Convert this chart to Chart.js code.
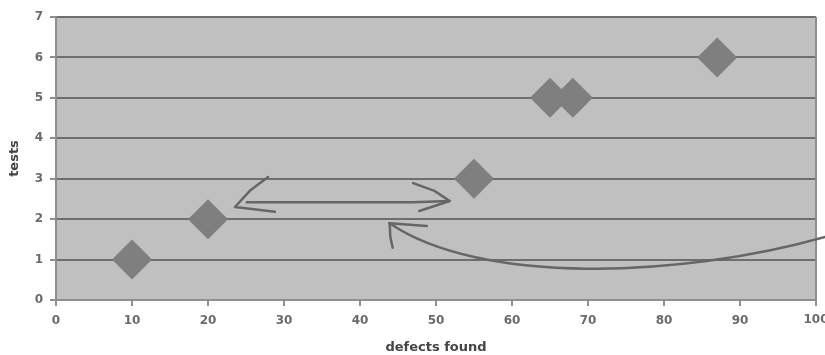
<!DOCTYPE html>
<html>
<head>
<meta charset="utf-8">
<script src="https://cdn.jsdelivr.net/npm/chart.js@4/dist/chart.umd.min.js"></script>
<style>
  html, body { margin: 0; padding: 0; background: #ffffff; }
  #wrap { width: 825px; height: 355px; position: relative; }
</style>
</head>
<body>
<div id="wrap"><canvas id="c" width="825" height="355"></canvas></div>
<script>
// ---- data ----
const defectsFound = [10, 20, 55, 65, 68, 87];
const tests = [1, 2, 3, 5, 5, 6];
const xTickLabels = [0, 10, 20, 30, 40, 50, 60, 70, 80, 90, 100];
const yTickLabels = [0, 1, 2, 3, 4, 5, 6, 7];
const xTitle = 'defects found';
const yTitle = 'tests';

// hand-drawn annotation strokes, in data units (x = defects, y = tests)
const doubleArrowShaft = [[25.1, 2.42], [47.0, 2.42], [51.8, 2.45]];
const doubleArrowLeftHead = [[27.9, 3.04], [25.5, 2.7], [23.55, 2.30], [28.8, 2.18]];
const doubleArrowRightHead = [[47.0, 2.89], [49.8, 2.7], [51.8, 2.45], [47.8, 2.20]];
const curveArrow = [[101.2, 1.56], [82.1, 0.544], [55.8, 0.371], [43.9, 1.90]]; // cubic bezier
const curveArrowHeadA = [[43.9, 1.90], [48.8, 1.83]];
const curveArrowHeadB = [[43.9, 1.90], [44.0, 1.55], [44.3, 1.29]];

const points = defectsFound.map((x, i) => ({ x: x, y: tests[i] }));
const lastX = xTickLabels[xTickLabels.length - 1];
const tickFont = { family: 'DejaVu Sans', size: 12, weight: 'bold' };
const titleFont = { family: 'DejaVu Sans', size: 13, weight: 'bold' };
const tickColor = '#6a6a6a';
const xTickPad = 8;

const plotBg = {
  id: 'plotBg',
  beforeDraw(chart) {
    const { ctx, chartArea: a } = chart;
    ctx.save();
    ctx.fillStyle = '#c0c0c0';
    ctx.fillRect(a.left, a.top, a.right - a.left, a.bottom - a.top);
    ctx.restore();
  },
  afterDatasetsDraw(chart) {
    const { ctx, chartArea: a } = chart;
    ctx.save();
    ctx.strokeStyle = '#8e8e8e';
    ctx.lineWidth = 2;
    ctx.beginPath();
    ctx.moveTo(a.right, a.top);
    ctx.lineTo(a.right, a.bottom);
    ctx.stroke();
    ctx.restore();
  }
};

// the last x tick label runs past the canvas edge (as in the original); drawn here so it does not shrink the plot
const lastLabel = {
  id: 'lastLabel',
  afterDraw(chart) {
    const ctx = chart.ctx, xs = chart.scales.x;
    ctx.save();
    ctx.fillStyle = tickColor;
    ctx.font = 'bold 12px "DejaVu Sans"';
    ctx.textAlign = 'center';
    ctx.textBaseline = 'top';
    const tickLabelTop = xs.top + 6 + xTickPad;
    ctx.fillText(String(lastX), xs.getPixelForValue(lastX), tickLabelTop);
    ctx.restore();
  }
};

const annotations = {
  id: 'annotations',
  afterDraw(chart) {
    const ctx = chart.ctx;
    const xs = chart.scales.x, ys = chart.scales.y;
    const P = (p) => [xs.getPixelForValue(p[0]), ys.getPixelForValue(p[1])];
    ctx.save();
    ctx.strokeStyle = '#666666';
    ctx.lineWidth = 2.5;
    ctx.lineCap = 'round';
    ctx.lineJoin = 'round';
    const poly = (pts) => {
      ctx.beginPath();
      const p0 = P(pts[0]);
      ctx.moveTo(p0[0], p0[1]);
      for (let i = 1; i < pts.length; i++) {
        const p = P(pts[i]);
        ctx.lineTo(p[0], p[1]);
      }
      ctx.stroke();
    };
    poly(doubleArrowShaft);
    poly(doubleArrowLeftHead);
    poly(doubleArrowRightHead);
    const c0 = P(curveArrow[0]), c1 = P(curveArrow[1]), c2 = P(curveArrow[2]), c3 = P(curveArrow[3]);
    ctx.beginPath();
    ctx.moveTo(c0[0], c0[1]);
    ctx.bezierCurveTo(c1[0], c1[1], c2[0], c2[1], c3[0], c3[1]);
    ctx.stroke();
    poly(curveArrowHeadA);
    poly(curveArrowHeadB);
    ctx.restore();
  }
};

new Chart(document.getElementById('c'), {
  type: 'scatter',
  data: {
    datasets: [{
      data: points,
      pointStyle: 'rectRot',
      pointRadius: 20,
      pointHoverRadius: 20,
      backgroundColor: '#7f7f7f',
      borderWidth: 0
    }]
  },
  options: {
    responsive: false,
    animation: false,
    events: [],
    layout: { autoPadding: false, padding: { top: 17, right: 9, left: 0, bottom: 0 } },
    plugins: { legend: { display: false }, tooltip: { enabled: false } },
    scales: {
      x: {
        type: 'linear',
        min: 0, max: 100,
        afterBuildTicks(s) { s.ticks = xTickLabels.map(v => ({ value: v })); },
        afterFit(s) { s.height = 55; },
        ticks: {
          color: tickColor,
          font: tickFont,
          padding: xTickPad,
          maxRotation: 0,
          callback: (v) => (v === lastX ? '' : String(v))
        },
        grid: {
          drawOnChartArea: false,
          drawTicks: true,
          tickLength: 6,
          tickColor: '#8e8e8e',
          lineWidth: 2
        },
        border: { display: true, color: '#8e8e8e', width: 2 },
        title: {
          display: true,
          text: xTitle,
          color: '#444444',
          font: titleFont,
          padding: { top: 0, bottom: 0 }
        }
      },
      y: {
        type: 'linear',
        min: 0, max: 7,
        afterBuildTicks(s) { s.ticks = yTickLabels.map(v => ({ value: v })); },
        afterFit(s) { s.width = 56; },
        ticks: {
          color: tickColor,
          font: tickFont,
          padding: 7
        },
        grid: {
          color: '#6e6e6e',
          lineWidth: 2,
          drawTicks: true,
          tickLength: 6,
          tickColor: '#8e8e8e'
        },
        border: { display: true, color: '#8e8e8e', width: 2 },
        title: {
          display: true,
          text: yTitle,
          color: '#444444',
          font: titleFont,
          padding: { top: 7, bottom: 0 }
        }
      }
    }
  },
  plugins: [plotBg, annotations, lastLabel]
});
</script>
</body>
</html>
